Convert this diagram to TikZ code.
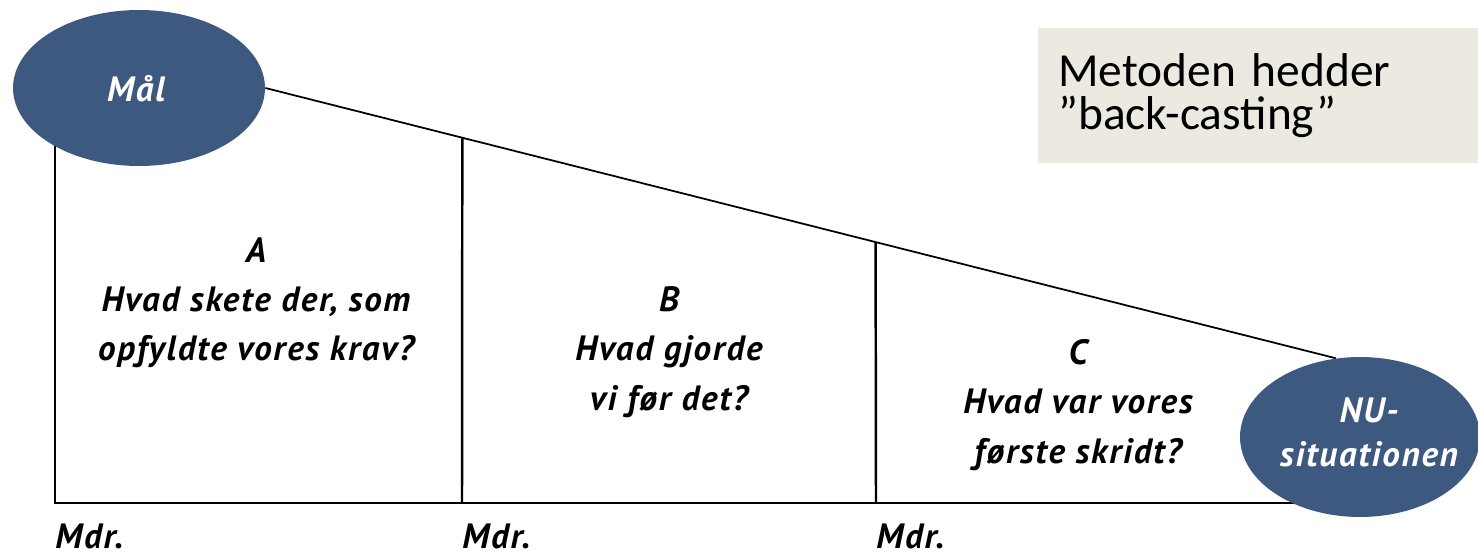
\documentclass[tikz,border=0pt]{standalone}
\usepackage{fontspec}
\setmainfont{PT Sans}
\newfontfamily\lblfont[LetterSpace=5]{PT Sans}
\newfontfamily\notefont{Carlito}
\usetikzlibrary{shapes.geometric,backgrounds,calc}
\definecolor{ovalblue}{RGB}{62,89,128}
\definecolor{notebeige}{RGB}{236,233,224}

\begin{document}
\begin{tikzpicture}[x=0.02cm, y=-0.02cm,
   oval/.style={ellipse, fill=ovalblue, inner sep=0pt},
   ovaltext/.style={align=center, text=white, inner sep=0pt, font=\lblfont\bfseries\itshape\fontsize{20}{25}\selectfont},
   question/.style={align=center, inner sep=0pt, font=\lblfont\bfseries\itshape\fontsize{20}{28}\selectfont},
   month/.style={anchor=west, inner sep=0pt, font=\lblfont\bfseries\itshape\fontsize{20}{22}\selectfont},
   frame/.style={line width=1.4pt},
   note/.style={fill=notebeige, anchor=north west, align=left, text width=8cm, inner xsep=0.4cm, minimum height=2.7cm, font=\notefont\fontsize{27}{24.5}\selectfont}]
   \useasboundingbox (0,0) rectangle (1478,557);

   % goal and present situation
   \node[oval, minimum width=5.04cm, minimum height=3.12cm] (mal) at (139,88)  {};
   \node[oval, minimum width=4.8cm,  minimum height=3.2cm]  (nu)  at (1360,437) {};
   \node[ovaltext] (maltext) at (136,89)  {Mål};
   \node[ovaltext] (nutext)  at (1369,432) {NU-\\situationen};

   \node[note] (metode) at (1038,28) {Metoden hedder\\”back-casting”};

   % time line
   \coordinate (a0) at (55,503);
   \coordinate (b0) at (462,503);
   \coordinate (c0) at (876,503);

   \begin{scope}[on background layer]
      \draw[frame] (a0 |- mal.center) -- (a0) -- (a0 -| nu.center);
      \draw[frame] (b0) -- ($(mal.east)!0.184!(nu.107)$);
      \draw[frame] (c0) -- ($(mal.east)!0.570!(nu.107)$);
      \draw[line width=1pt] (mal.east) -- (nu.107);
   \end{scope}

   \node[question] (qa) at (256,303) {A\\Hvad skete der, som\\opfyldte vores krav?};
   \node[question] (qb) at (669,352) {B\\Hvad gjorde\\vi før det?};
   \node[question] (qc) at (1078,405) {C\\Hvad var vores\\første skridt?};

   \node[month] (ma) at (55,536)  {Mdr.};
   \node[month] (mb) at (462,536) {Mdr.};
   \node[month] (mc) at (876,536) {Mdr.};
\end{tikzpicture}
\end{document}
